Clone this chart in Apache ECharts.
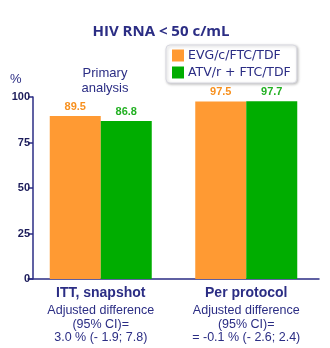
<!DOCTYPE html>
<html><head><meta charset="utf-8">
<script src="https://cdn.jsdelivr.net/npm/echarts@6/dist/echarts.min.js"></script>
<style>html,body{margin:0;padding:0;background:#fff}#c{width:330px;height:348px}</style>
</head><body><div id="c"></div>
<script>
const categories = ['ITT, snapshot', 'Per protocol'];
const subLabels = [
  ['Adjusted difference', '(95% CI)=', '3.0 % (- 1.9; 7.8)'],
  ['Adjusted difference', '(95% CI)=', '= -0.1 % (- 2.6; 2.4)']
];
const seriesNames = ['EVG/c/FTC/TDF', 'ATV/r + FTC/TDF'];
const evgValues = [89.5, 97.5];
const atvValues = [86.8, 97.7];
const yTicks = [0, 25, 50, 75, 100];

const navy = '#2B2D84';
const chart = echarts.init(document.getElementById('c'));
chart.setOption({
  animation: false,
  title: {
    text: 'HIV RNA < 50 c/mL', left: 156, top: 19, textAlign: 'center',
    textStyle: { fontFamily: 'Open Sans', fontSize: 15, fontWeight: 'bold', color: navy }
  },
  legend: {
    orient: 'vertical', left: 166, top: 45, itemWidth: 12, itemHeight: 12, itemGap: 4,
    padding: [4, 6, 4, 6], icon: 'rect',
    backgroundColor: '#fff', borderColor: '#d8d8e0', borderWidth: 1, borderRadius: 4,
    shadowColor: 'rgba(0,0,0,0.25)', shadowBlur: 3, shadowOffsetX: 1, shadowOffsetY: 1,
    textStyle: { fontFamily: 'DejaVu Sans', fontSize: 12.5, color: navy, padding: [0, 0, 0, -1] },
    data: seriesNames
  },
  graphic: [
    { type: 'text', left: 10, top: 73, style: { text: '%', font: '13px "Liberation Sans"', fill: navy } },
    { type: 'text', x: 105, y: 66, style: { text: 'Primary\nanalysis', font: '13px "Liberation Sans"', fill: navy, align: 'center', lineHeight: 15 } }
  ],
  grid: { left: 28, top: 97, width: 291, height: 182 },
  xAxis: {
    type: 'category', data: categories,
    axisLine: { lineStyle: { color: navy, width: 1.5 } },
    axisTick: { show: false },
    axisLabel: {
      interval: 0, margin: 3, color: navy,
      formatter: (v, i) => '{h|' + v + '}\n' + subLabels[i].map(s => '{s|' + s + '}').join('\n'),
      rich: {
        h: { fontFamily: 'Liberation Sans', fontSize: 14, fontWeight: 'bold', color: navy, lineHeight: 22 },
        s: { fontFamily: 'Liberation Sans', fontSize: 12.5, color: navy, lineHeight: 13.5 }
      }
    }
  },
  yAxis: {
    type: 'value', min: 0, max: 100, interval: 25, offset: -5,
    axisLine: { show: true, lineStyle: { color: navy, width: 1.5 } },
    axisTick: { show: true, length: 5, lineStyle: { color: navy, width: 1.5 } },
    splitLine: { show: false },
    axisLabel: {
      margin: 3, color: '#1c1c5a', fontFamily: 'Liberation Sans', fontSize: 11, fontWeight: 'bold',
      formatter: v => yTicks.includes(v) ? String(v) : ''
    }
  },
  series: [
    { name: seriesNames[0], type: 'bar', data: evgValues, barWidth: 51, barGap: '0%',
      itemStyle: { color: '#FF9A33' },
      label: { show: true, position: 'top', distance: 4, color: '#F7901E', fontFamily: 'Liberation Sans', fontSize: 11, fontWeight: 'bold' } },
    { name: seriesNames[1], type: 'bar', data: atvValues, barWidth: 51,
      itemStyle: { color: '#00AD00' },
      label: { show: true, position: 'top', distance: 4, color: '#22B022', fontFamily: 'Liberation Sans', fontSize: 11, fontWeight: 'bold' } }
  ]
});
</script></body></html>
